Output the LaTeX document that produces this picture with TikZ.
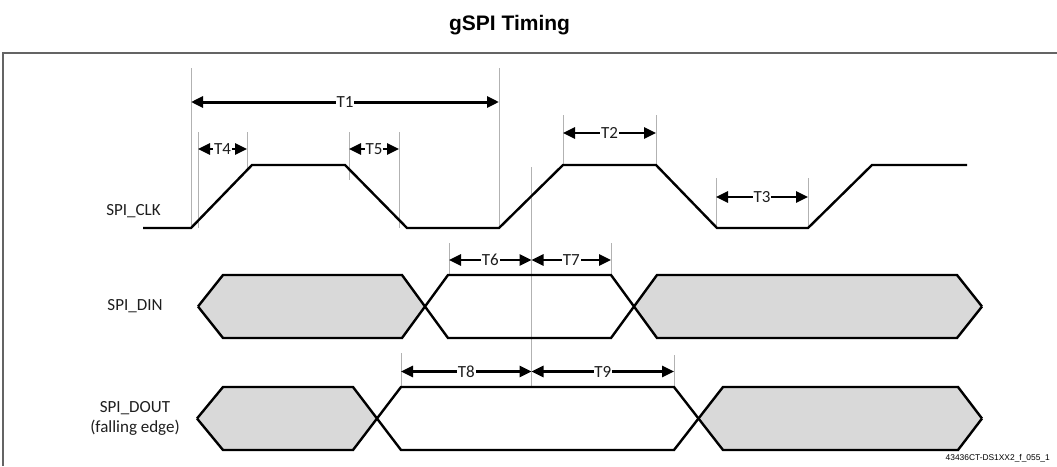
\documentclass[tikz,border=0pt]{standalone}
\usepackage{fontspec}
\setmainfont{Carlito}
\newfontfamily\arialfont{Liberation Sans}
\usetikzlibrary{arrows.meta}
\definecolor{wavegray}{RGB}{217,217,217}
\definecolor{guide}{RGB}{178,178,178}
\definecolor{framegray}{RGB}{100,100,100}
\definecolor{txt}{RGB}{30,30,30}
\begin{document}
\begin{tikzpicture}[x=1pt,y=-1pt,
  wave/.style={line width=2.4pt, line join=miter, black},
  guideline/.style={line width=0.8pt, guide},
  dim/.style={line width=2.6pt, {Triangle[length=12pt,width=11pt]}-{Triangle[length=12pt,width=11pt]}},
  tlabel/.style={fill=white, inner sep=0.8pt, font=\fontsize{17}{17}\selectfont, text=txt},
  siglabel/.style={font=\fontsize{17}{20}\selectfont, text=txt, align=center, inner sep=0pt}]
\useasboundingbox (0,0) rectangle (1057,466);
\fill[white] (0,0) rectangle (1057,466);
% title and frame
\node[font=\arialfont\bfseries\fontsize{21}{21}\selectfont, inner sep=0pt] (title) at (509.5,25) {gSPI Timing};
\draw[framegray, line width=2pt] (3,466) -- (3,52.5) -- (1057,52.5);
% guide lines
\draw[guideline] (191,68) -- (191,228);
\draw[guideline] (499,68) -- (499,228);
\draw[guideline] (198,132) -- (198,228);
\draw[guideline] (247,132) -- (247,170);
\draw[guideline] (349,132) -- (349,180);
\draw[guideline] (399,132) -- (399,228);
\draw[guideline] (563,115) -- (563,165);
\draw[guideline] (656,115) -- (656,165);
\draw[guideline] (716,178) -- (716,228);
\draw[guideline] (808,178) -- (808,228);
\draw[guideline] (531.5,167) -- (531.5,387);
\draw[guideline] (449,243) -- (449,275);
\draw[guideline] (611,243) -- (611,275);
\draw[guideline] (401,353) -- (401,387);
\draw[guideline] (674,355) -- (674,387);
% signal labels
\node[siglabel] (clk) at (133.5,211) {SPI\_CLK};
\node[siglabel] (din) at (135,306) {SPI\_DIN};
\node[siglabel] (dout) at (135,418) {SPI\_DOUT\\(falling edge)};
% clock
\draw[wave] (143,228) -- (191,228) -- (252,165) -- (345,165) -- (407,228) -- (499,228) -- (563,165) -- (656,165) -- (717,228) -- (808,228) -- (872,165) -- (967,165);
% DIN
\fill[wavegray] (198,306.5) -- (223,275) -- (402,275) -- (425,306.5) -- (402,338) -- (223,338) -- cycle;
\fill[wavegray] (634,306.5) -- (657,275) -- (957,275) -- (982,306.5) -- (957,338) -- (657,338) -- cycle;
\draw[wave] (198,306.5) -- (223,275) -- (402,275) -- (448,338) -- (611,338) -- (657,275) -- (957,275) -- (982,306.5);
\draw[wave] (198,306.5) -- (223,338) -- (402,338) -- (448,275) -- (611,275) -- (657,338) -- (957,338) -- (982,306.5);
% DOUT
\fill[wavegray] (197,418.5) -- (223,387) -- (353,387) -- (377,418.5) -- (353,450) -- (223,450) -- cycle;
\fill[wavegray] (698.5,418.5) -- (723,387) -- (958,387) -- (982,418.5) -- (958,450) -- (723,450) -- cycle;
\draw[wave] (197,418.5) -- (223,387) -- (353,387) -- (401,450) -- (674,450) -- (723,387) -- (958,387) -- (982,418.5);
\draw[wave] (197,418.5) -- (223,450) -- (353,450) -- (401,387) -- (674,387) -- (723,450) -- (958,450) -- (982,418.5);
% dimension arrows
\draw[dim, line width=3pt] (191,102) -- node[tlabel] (t1) {T1} (499,102);
\draw[dim] (198,149) -- node[tlabel] (t4) {T4} (247,149);
\draw[dim] (349,149) -- node[tlabel] (t5) {T5} (399,149);
\draw[dim] (563,133) -- node[tlabel] (t2) {T2} (656,133);
\draw[dim] (716,197) -- node[tlabel] (t3) {T3} (808,197);
\draw[dim] (449,260) -- node[tlabel] (t6) {T6} (531.5,260);
\draw[dim] (531.5,260) -- node[tlabel] (t7) {T7} (611,260);
\draw[dim] (401,371.5) -- node[tlabel] (t8) {T8} (531.5,371.5);
\draw[dim] (531.5,371.5) -- node[tlabel] (t9) {T9} (674,371.5);
% figure code
\node[font=\arialfont\fontsize{8.4}{9}\selectfont, anchor=east, inner sep=0pt] (code) at (1050,458) {43436CT-DS1XX2\_f\_055\_1};
\end{tikzpicture}
\end{document}
